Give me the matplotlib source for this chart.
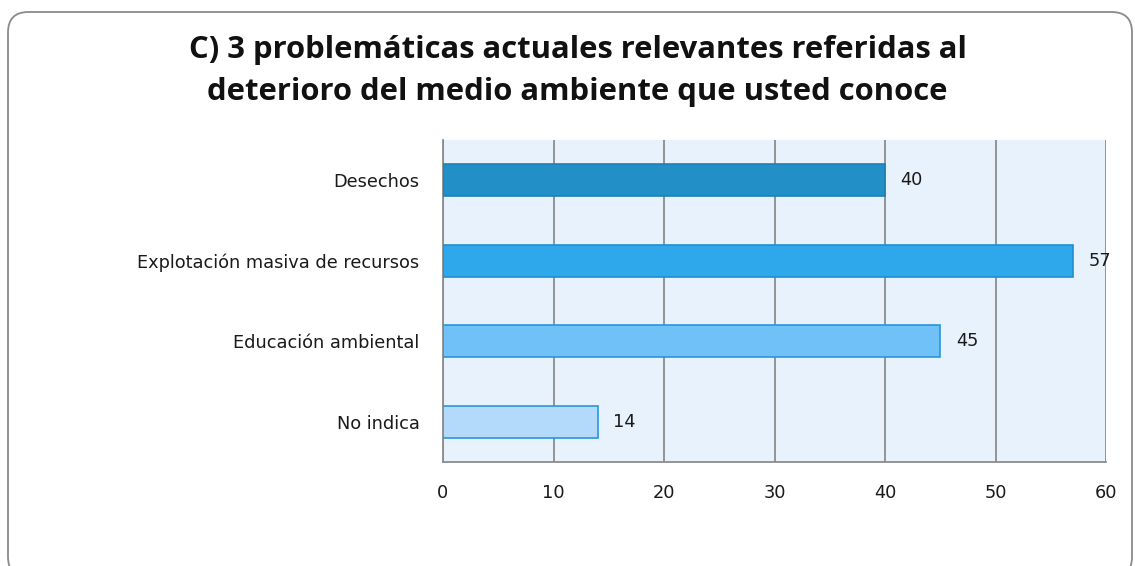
import matplotlib
matplotlib.use("Agg")
import matplotlib.pyplot as plt
from matplotlib.patches import FancyBboxPatch

# datos
categorias = ["Desechos", "Explotación masiva de recursos", "Educación ambiental", "No indica"]
valores = [40, 57, 45, 14]
colores = ["#238FC7", "#2EA7EB", "#70C1F8", "#B4DAFB"]
bordes = ["#1E7FB5", "#1F8FD0", "#2A96D8", "#2A96D8"]
ticks_x = [0, 10, 20, 30, 40, 50, 60]

titulo = "C) 3 problemáticas actuales relevantes referidas al\ndeterioro del medio ambiente que usted conoce"

fig = plt.figure(figsize=(11.35, 5.66), dpi=100)
fig.patch.set_facecolor("white")

# marco redondeado del grafico
marco = FancyBboxPatch((8 / 1135, -0.02), 1124 / 1135, 1 - 12 / 566 + 0.02,
                       boxstyle="round,pad=0,rounding_size=0.018",
                       transform=fig.transFigure, facecolor="none",
                       edgecolor="#8A8A8A", linewidth=1.3, mutation_aspect=2.0,
                       zorder=-1)
fig.patches.append(marco)

ax = fig.add_axes([443 / 1135, 1 - 462 / 566, (1106 - 443) / 1135, (462 - 140) / 566])
ax.set_facecolor("#E8F2FD")

pos = list(range(len(categorias)))
ax.barh(pos, valores, height=0.4, color=colores, edgecolor=bordes, linewidth=1.2, zorder=3)

for p, v in zip(pos, valores):
    ax.text(v + 1.4, p, str(v), va="center", ha="left", fontsize=12.8,
            color="#1A1A1A", zorder=4)

ax.set_xlim(0, 60)
ax.set_ylim(3.5, -0.5)
ax.set_xticks(ticks_x)
ax.set_yticks(pos)
ax.set_yticklabels(categorias)
ax.tick_params(axis="both", length=0, labelsize=12.8, colors="#1A1A1A")
ax.tick_params(axis="y", pad=17)
ax.tick_params(axis="x", pad=16)

ax.xaxis.grid(True, color="#8C8C8C", linewidth=1.3, zorder=1)
ax.set_axisbelow(True)
for lado in ["top", "right"]:
    ax.spines[lado].set_visible(False)
for lado in ["left", "bottom"]:
    ax.spines[lado].set_color("#8C8C8C")
    ax.spines[lado].set_linewidth(1.3)

fig.text(0.509, 1 - 71 / 566, titulo, ha="center", va="center", fontsize=22.3,
         fontweight="bold", family="Open Sans", linespacing=1.55, color="#111111")

fig.savefig("out.png", dpi=100)
